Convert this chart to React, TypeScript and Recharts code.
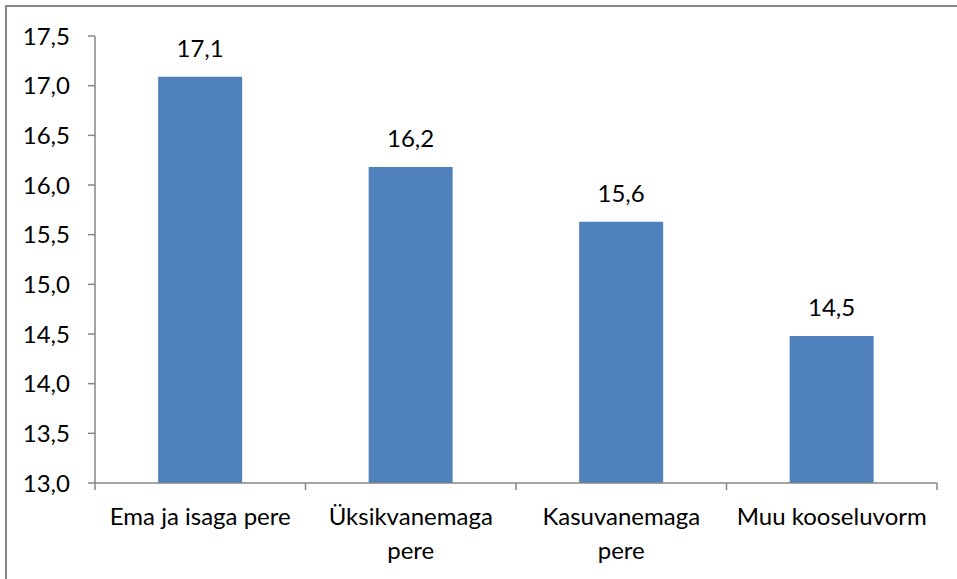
import { Bar, BarChart, LabelList, XAxis, YAxis } from "recharts";

const kategooriad = ["Ema ja isaga pere", "Üksikvanemaga pere", "Kasuvanemaga pere", "Muu kooseluvorm"];
const vaartused = [17.09, 16.18, 15.63, 14.48];
const yTikid = [13, 13.5, 14, 14.5, 15, 15.5, 16, 16.5, 17, 17.5];

const andmed = kategooriad.map((nimi, i) => ({ nimi, vaartus: vaartused[i] }));

const FONT = "Lato, 'Noto Sans', sans-serif";
const FS = 24;
const TELG = "#868686";
const SININE = "#4F81BD";
const koma = (v: number) => v.toFixed(1).replace(".", ",");

const LAIUS = 957;
const KORGUS = 579;
const VASAK = 95;
const PAREM = 20;
const kategooriaLaius = (LAIUS - VASAK - PAREM) / kategooriad.length;

let ctx: CanvasRenderingContext2D | null = null;
function moodaLaius(tekst: string) {
  if (!ctx) ctx = document.createElement("canvas").getContext("2d");
  if (!ctx) return tekst.length * FS * 0.5;
  ctx.font = `${FS}px ${FONT}`;
  return ctx.measureText(tekst).width;
}

function murra(tekst: string, max: number) {
  const read: string[] = [];
  let rida = "";
  for (const sona of tekst.split(" ")) {
    const proov = rida ? `${rida} ${sona}` : sona;
    if (rida && moodaLaius(proov) > max) {
      read.push(rida);
      rida = sona;
    } else rida = proov;
  }
  if (rida) read.push(rida);
  return read;
}

function XTikk(props: any) {
  const { x, y, payload, index } = props;
  const pool = kategooriaLaius / 2;
  const read = murra(String(payload.value), 200);
  return (
    <g>
      <line x1={x - pool} x2={x - pool} y1={y - 8} y2={y - 1} stroke={TELG} strokeWidth={1.5} />
      {index === kategooriad.length - 1 && (
        <line x1={x + pool} x2={x + pool} y1={y - 8} y2={y - 1} stroke={TELG} strokeWidth={1.5} />
      )}
      <text x={x} y={y + 34} textAnchor="middle" fontSize={FS} fontFamily={FONT} fill="#000">
        {read.map((r, i) => (
          <tspan key={i} x={x} dy={i === 0 ? 0 : 34}>
            {r}
          </tspan>
        ))}
      </text>
    </g>
  );
}

export default function App() {
  return (
    <div style={{ position: "fixed", left: 0, top: 0, width: LAIUS, height: KORGUS, overflow: "hidden", background: "#fff" }}>
      <div
        style={{
          position: "absolute",
          left: 5,
          top: 5,
          width: 2000,
          height: 2000,
          borderTop: `2px solid ${TELG}`,
          borderLeft: `2px solid ${TELG}`,
        }}
      />
      <div style={{ position: "absolute", left: 0, top: 0 }}>
        <BarChart width={LAIUS} height={KORGUS} data={andmed} margin={{ top: 36, right: PAREM, left: 0, bottom: 0 }} barCategoryGap="30%">
          <XAxis
            dataKey="nimi"
            height={96}
            interval={0}
            tickLine={false}
            axisLine={{ stroke: TELG, strokeWidth: 1.5 }}
            tick={<XTikk />}
          />
          <YAxis
            width={VASAK}
            domain={[13, 17.5]}
            ticks={yTikid}
            interval={0}
            tickFormatter={koma}
            tickSize={7}
            tickMargin={18}
            tickLine={{ stroke: TELG, strokeWidth: 1.5 }}
            axisLine={{ stroke: TELG, strokeWidth: 1.5 }}
            tick={{ fill: "#000", fontSize: FS, fontFamily: FONT }}
            allowDataOverflow
          />
          <Bar dataKey="vaartus" fill={SININE} isAnimationActive={false}>
            <LabelList
              dataKey="vaartus"
              position="top"
              offset={20}
              formatter={(v: any) => koma(Number(v))}
              style={{ fill: "#000", fontSize: FS, fontFamily: FONT }}
            />
          </Bar>
        </BarChart>
      </div>
    </div>
  );
}
